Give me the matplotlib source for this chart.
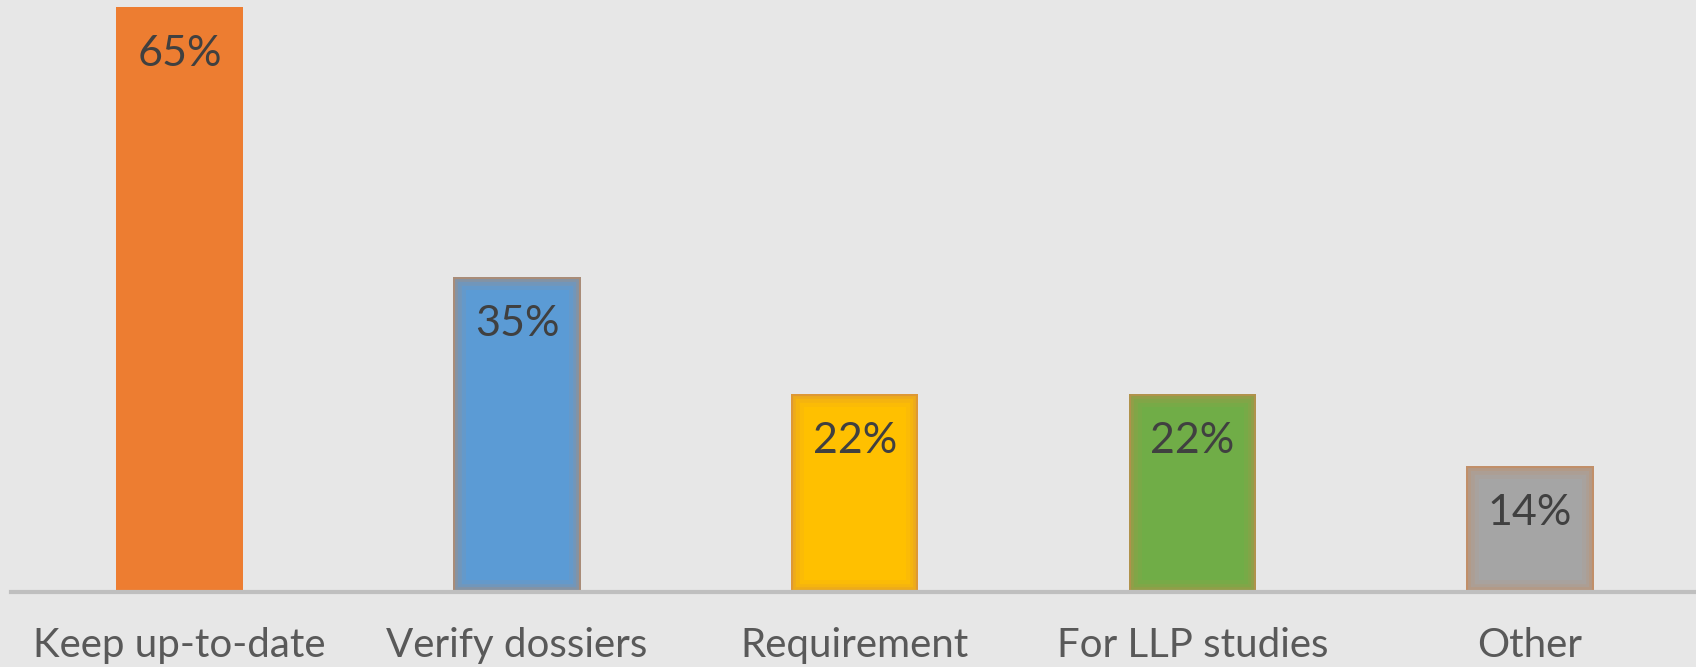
import matplotlib.pyplot as plt
import numpy as np

# Datos
categorias = ["Keep up-to-date", "Verify dossiers", "Requirement", "For LLP studies", "Other"]
valores = [65, 35, 22, 22, 14]
colores = ["#ED7D31", "#5B9BD5", "#FFC000", "#70AD47", "#A5A5A5"]
etiquetas = ["65%", "35%", "22%", "22%", "14%"]

plt.rcParams['font.family'] = ['Lato', 'DejaVu Sans']

fondo = "#E7E7E7"
fig = plt.figure(figsize=(16.96, 6.67), dpi=100, facecolor=fondo)
ax = fig.add_axes([11 / 1696, 75 / 667, 1685 / 1696, 592 / 667])
ax.set_facecolor(fondo)

x = np.arange(len(categorias))
barras = ax.bar(x, valores, width=0.377, color=colores, zorder=2)

# Borde difuso (brillo interior) en las barras, salvo la primera
for i, b in enumerate(barras):
    if i == 0:
        continue
    for lw, a in [(18, 0.08), (12, 0.12), (7, 0.2), (3, 0.5)]:
        borde = plt.Rectangle(b.get_xy(), b.get_width(), b.get_height(),
                              fill=False, edgecolor="#D0874E", linewidth=lw,
                              alpha=a, zorder=3)
        ax.add_patch(borde)
        borde.set_clip_path(b)

# Etiquetas de valor
for xi, v, t in zip(x, valores, etiquetas):
    ax.annotate(t, (xi, v), xytext=(0, -20), textcoords="offset points",
                ha="center", va="top", fontsize=31, color="#404040", zorder=4)

ax.set_xlim(-0.499, 4.492)
ax.set_ylim(0, 65.75)
ax.set_xticks(x)
ax.set_xticklabels(categorias, fontsize=29, color="#595959")
ax.tick_params(axis="x", length=0, pad=25)
ax.set_yticks([])

for s in ["top", "right", "left"]:
    ax.spines[s].set_visible(False)
ax.spines["bottom"].set_color("#BFBFBF")
ax.spines["bottom"].set_linewidth(3)
ax.spines["bottom"].set_zorder(5)

plt.savefig("out.png", dpi=100, facecolor=fondo)
